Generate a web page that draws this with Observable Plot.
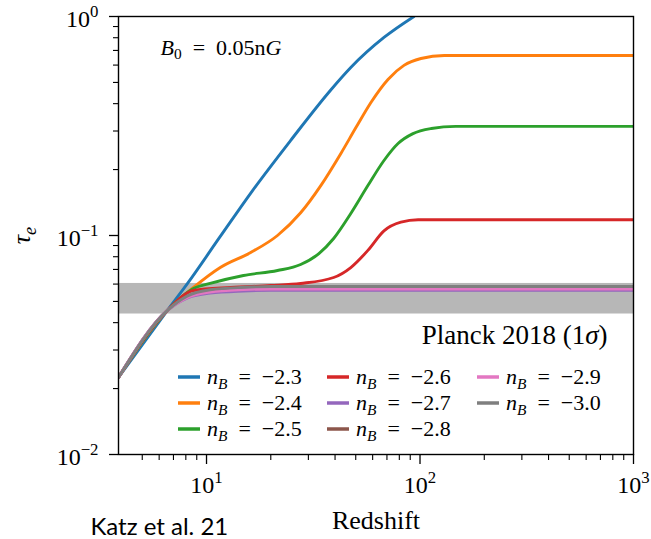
<!DOCTYPE html>
<html><head><meta charset="utf-8">
<script src="https://cdn.jsdelivr.net/npm/d3@7"></script>
<script src="https://cdn.jsdelivr.net/npm/@observablehq/plot@0.6"></script>
<style>html,body{margin:0;padding:0;background:#fff;}#chart{width:651px;height:539px;}</style>
</head><body><div id="chart"></div>
<script>
// ---- data ----
const nB = [-2.3, -2.4, -2.5, -2.6, -2.7, -2.8, -2.9, -3.0];
const colors = ["#1f77b4","#ff7f0e","#2ca02c","#d62728","#9467bd","#8c564b","#e377c2","#7f7f7f"];

const z_23   = [3.87, 6.56, 8.15, 11.6, 16.4, 24.8, 38.2, 47.4, 67.8, 93.7];
const tau_23 = [0.0225, 0.0455, 0.0604, 0.099, 0.160, 0.272, 0.462, 0.585, 0.802, 1.0];

const z_24   = [3.87, 6.56, 8.69, 11.6, 16.1, 21.5, 27.6, 34.3, 42.6, 50.1, 58.9, 70.8, 84.1, 101, 130, 1000];
const tau_24 = [0.0225, 0.0455, 0.0579, 0.0714, 0.0836, 0.100, 0.127, 0.169, 0.237, 0.311, 0.405, 0.516, 0.598, 0.643, 0.664, 0.664];

const z_25   = [3.87, 6.56, 8.69, 10.4, 14.9, 21.5, 27.6, 33.6, 39.4, 47.4, 57.0, 67.8, 78.9, 92.7, 113, 147, 1000];
const tau_25 = [0.0225, 0.0455, 0.0573, 0.0604, 0.0657, 0.0692, 0.0737, 0.0827, 0.0969, 0.126, 0.169, 0.220, 0.263, 0.292, 0.308, 0.315, 0.315];

const z_26   = [3.87, 6.56, 8.69, 13.0, 20.0, 27.6, 39.4, 47.4, 57.0, 67.8, 81.4, 98, 1000];
const tau_26 = [0.0225, 0.0455, 0.0561, 0.0579, 0.0591, 0.0604, 0.0643, 0.0714, 0.0855, 0.105, 0.115, 0.118, 0.118];

const z_27   = [3.87, 6.56, 8.15, 10.4, 14.9, 20.0, 1000];
const tau_27 = [0.0225, 0.0455, 0.0519, 0.0546, 0.0558, 0.0562, 0.0562];

const z_28   = [3.87, 6.56, 8.15, 10.4, 14.9, 20.0, 1000];
const tau_28 = [0.0225, 0.0455, 0.0525, 0.0558, 0.0573, 0.0578, 0.0578];

const z_29   = [3.87, 6.56, 8.15, 10.4, 14.9, 20.0, 1000];
const tau_29 = [0.0225, 0.0455, 0.0522, 0.0552, 0.0566, 0.0570, 0.0570];

const z_30   = [3.87, 6.56, 8.15, 10.4, 14.9, 20.0, 1000];
const tau_30 = [0.0225, 0.0455, 0.0530, 0.0565, 0.0580, 0.0585, 0.0585];

const planckBand = [0.0438, 0.0604];
const planckLabel = "Planck 2018 (1σ)";
const fieldLabel = "B0 = 0.05nG";
const xLabel = "Redshift";
const yLabel = "τe";
const creditLabel = "Katz et al. 21";

const xDomain = [3.87, 1000];
const yDomain = [0.01, 1];
const xMajorTicks = [10, 100, 1000];
const xMinorTicks = [5, 6, 7, 8, 9, 20, 30, 40, 50, 60, 70, 80, 90, 200, 300, 400, 500, 600, 700, 800, 900];
const yMajorTicks = [0.01, 0.1, 1];
const yMinorTicks = [0.02, 0.03, 0.04, 0.05, 0.06, 0.07, 0.08, 0.09, 0.2, 0.3, 0.4, 0.5, 0.6, 0.7, 0.8, 0.9];

// ---- build ----
const seriesZ = [z_23, z_24, z_25, z_26, z_27, z_28, z_29, z_30];
const seriesTau = [tau_23, tau_24, tau_25, tau_26, tau_27, tau_28, tau_29, tau_30];
const rows = nB.flatMap((n, i) => seriesZ[i].map((z, j) => ({nB: n, z, tau: seriesTau[i][j]})));

const serif = "'Liberation Serif', 'Times New Roman', serif";
const expLabel = d => "10^" + Math.round(Math.log10(d));

const plot = Plot.plot({
  width: 651, height: 539,
  marginLeft: 118, marginRight: 18, marginTop: 16, marginBottom: 85,
  style: {fontFamily: serif, background: "white", color: "black"},
  x: {type: "log", domain: xDomain},
  y: {type: "log", domain: yDomain},
  color: {type: "ordinal", domain: nB, range: colors},
  marks: [
    Plot.rect([planckBand], {x1: () => xDomain[0], x2: () => xDomain[1], y1: d => d[0], y2: d => d[1], fill: "#b7b7b7"}),
    Plot.line(rows, {x: "z", y: "tau", z: "nB", stroke: "nB", strokeWidth: 2.9, curve: "monotone-x", clip: true}),
    Plot.axisX(xMajorTicks, {anchor: "bottom", tickSize: 10, tickFormat: () => "", label: null, strokeWidth: 1.3}),
    Plot.axisX(xMinorTicks, {anchor: "bottom", tickSize: 6, tickFormat: () => "", label: null, strokeWidth: 1.1}),
    Plot.axisY(yMajorTicks, {anchor: "left", tickSize: 9, tickFormat: () => "", label: null, strokeWidth: 1.3}),
    Plot.axisY(yMinorTicks, {anchor: "left", tickSize: 5, tickFormat: () => "", label: null, strokeWidth: 1.1}),
    Plot.text(xMajorTicks, {x: d => d, frameAnchor: "bottom", dy: 31, lineAnchor: "middle", textAnchor: "middle", text: expLabel, fontSize: 24}),
    Plot.text(yMajorTicks, {y: d => d, frameAnchor: "left", dx: -20, dy: 3, lineAnchor: "middle", textAnchor: "end", text: expLabel, fontSize: 24}),
    Plot.text([xLabel], {frameAnchor: "bottom", dy: 66, lineAnchor: "middle", textAnchor: "middle", text: d => d, fontSize: 26}),
    Plot.text([yLabel], {frameAnchor: "left", dx: -97, rotate: -90, lineAnchor: "middle", textAnchor: "middle", text: d => d, fontSize: 26}),
    Plot.text([fieldLabel], {frameAnchor: "top-left", dx: 42, dy: 31, lineAnchor: "middle", textAnchor: "start", text: d => d, fontSize: 22}),
    Plot.text([planckLabel], {frameAnchor: "bottom-right", dx: -26, dy: -119, lineAnchor: "middle", textAnchor: "end", text: d => d, fontSize: 27}),
    Plot.text([creditLabel], {frameAnchor: "bottom-left", dx: -28, dy: 73, lineAnchor: "middle", textAnchor: "start", text: d => d, fontSize: 24, fontFamily: "Lato, 'Open Sans', sans-serif"}),
    Plot.frame({stroke: "black", strokeWidth: 1.4})
  ]
});
document.getElementById("chart").appendChild(plot);

// ---- rich text (sub/superscripts, italics) ----
const EQ = "\u2002=\u2002";
function applyRich(el, parts) {
  const base = parseFloat(getComputedStyle(el).fontSize) || 20;
  el.textContent = "";
  let shift = 0;
  for (const p of parts) {
    const ts = d3.select(el).append("tspan").text(p.t);
    const target = p.sub ? 0.22 * base : p.sup ? -0.42 * base : 0;
    if (target !== shift) { ts.attr("dy", target - shift); shift = target; }
    if (p.sub || p.sup) ts.style("font-size", (0.7 * base) + "px");
    if (p.it) ts.style("font-style", "italic");
  }
}
function richParts(t) {
  const m = /^10\^(.+)$/.exec(t);
  if (m) return [{t: "10"}, {t: m[1].replace("-", "−"), sup: true}];
  if (t === yLabel) return [{t: "τ", it: true}, {t: "e", it: true, sub: true}];
  if (t === fieldLabel) return [{t: "B", it: true}, {t: "0", sub: true}, {t: EQ + "0.05n"}, {t: "G", it: true}];
  if (t === planckLabel) return [{t: "Planck 2018 (1"}, {t: "σ", it: true}, {t: ")"}];
  return null;
}
d3.select(plot).selectAll("text").each(function () {
  const parts = richParts(this.textContent);
  if (parts) applyRich(this, parts);
});

// ---- legend (inside plot, 3 columns, column-major) ----
const color = plot.scale("color");
const legendX = [178, 327, 477];
const legendY = [377, 403, 429];
const lg = d3.select(plot).append("g");
nB.forEach((n, i) => {
  const x0 = legendX[Math.floor(i / 3)], y0 = legendY[i % 3];
  lg.append("line").attr("x1", x0).attr("x2", x0 + 22).attr("y1", y0).attr("y2", y0)
    .attr("stroke", color.apply(n)).attr("stroke-width", 3.5);
  const t = lg.append("text").attr("x", x0 + 29).attr("y", y0).attr("dy", "0.32em")
    .attr("text-anchor", "start")
    .style("font-family", serif).style("font-size", "22px").style("fill", "black");
  applyRich(t.node(), [{t: "n", it: true}, {t: "B", it: true, sub: true}, {t: EQ + n.toFixed(1).replace("-", "−")}]);
});
</script>
</body></html>
